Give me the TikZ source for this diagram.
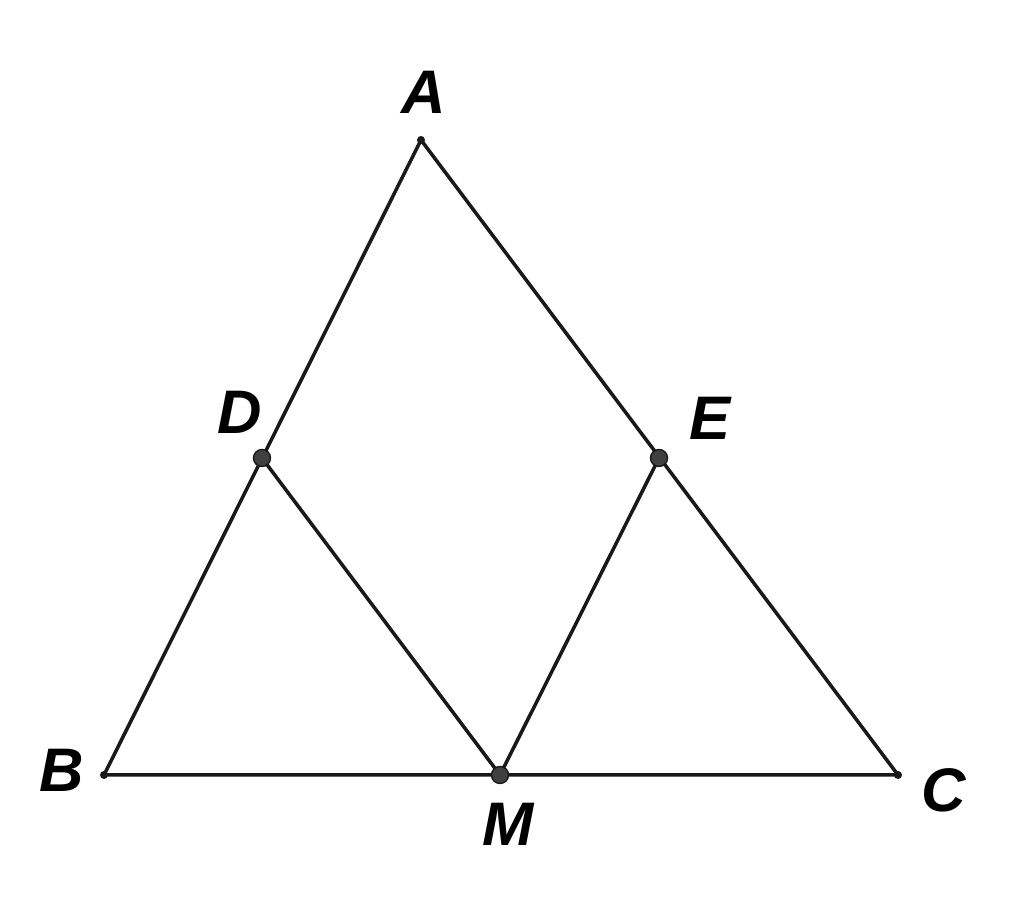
\documentclass[tikz,border=0pt]{standalone}
\usepackage{fontspec}
\setmainfont{Liberation Sans}
\usetikzlibrary{positioning}
\tikzset{
    side/.style={line width=1pt, draw=black!90},
    vtx/.style={fill=black!75, draw=black!90, line width=0.4pt},
    lbl/.style={inner sep=0pt, font=\fontsize{17.5}{20}\selectfont\bfseries\itshape},
}

\begin{document}
\begin{tikzpicture}
\useasboundingbox (0,0) rectangle (10.24,9.19);

\coordinate (A) at (4.21,7.79);
\coordinate (B) at (1.04,1.44);
\coordinate (C) at (8.98,1.44);
\coordinate (D) at (2.62,4.61);
\coordinate (E) at (6.59,4.61);
\coordinate (M) at (5.00,1.44);

% triangle and parallels
\draw[side] (A) -- (B) -- (C) -- cycle;
\draw[side] (D) -- (M) -- (E);

% points
\foreach \p in {A,B,C} \fill[black!90] (\p) circle (0.04);
\foreach \p in {D,E,M} \filldraw[vtx] (\p) circle (0.085);

% labels
\node[lbl, above=0.255cm of A, xshift=0.03cm] (lA) {A};
\node[lbl, above=0.235cm of D, xshift=-0.22cm] (lD) {D};
\node[lbl, above=0.18cm of E, xshift=0.51cm] (lE) {E};
\node[lbl, left=0.19cm of B, yshift=0.05cm] (lB) {B};
\node[lbl, right=0.23cm of C, yshift=-0.15cm] (lC) {C};
\node[lbl, below=0.28cm of M, xshift=0.08cm] (lM) {M};

\end{tikzpicture}
\end{document}
